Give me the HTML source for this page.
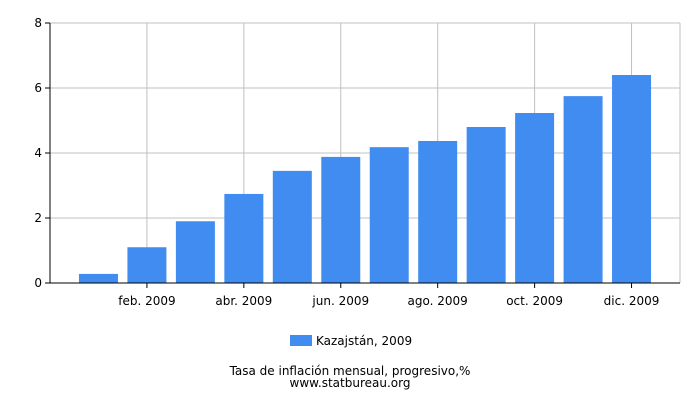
<!DOCTYPE html>
<html><head><meta charset="utf-8"><style>
body{margin:0;background:#fff;font-family:"DejaVu Sans","Liberation Sans",sans-serif}
svg text{font-family:"DejaVu Sans","Liberation Sans",sans-serif}
</style></head><body>
<svg id="chart" width="700" height="400" xmlns="http://www.w3.org/2000/svg">
<g id="grid"></g>
<g id="bars"></g>
<g id="axes"></g>
<g>
<rect x="290" y="335" width="22" height="11" fill="#418cf0"/>
<text x="316" y="345" font-size="12" fill="#000">Kazajstán, 2009</text>
</g>
<text x="350" y="375" font-size="12" text-anchor="middle" fill="#000">Tasa de inflación mensual, progresivo,%</text>
<text x="350" y="387" font-size="12" text-anchor="middle" fill="#000">www.statbureau.org</text>
</svg>
<script>
const months=["ene. 2009","feb. 2009","mar. 2009","abr. 2009","may. 2009","jun. 2009","jul. 2009","ago. 2009","sep. 2009","oct. 2009","nov. 2009","dic. 2009"];
const values=[0.28,1.1,1.9,2.74,3.45,3.88,4.18,4.37,4.8,5.23,5.75,6.4];
const yTicks=[0,2,4,6,8];
const ns="http://www.w3.org/2000/svg";
const L=50,R=680,T=23,B=283,yMax=8;
const slot=(R-L)/(months.length+1);
const x=i=>L+(i+1)*slot;
const y=v=>B-(v/yMax)*(B-T);
function mk(tag,attrs,parent,text){const e=document.createElementNS(ns,tag);for(const k in attrs)e.setAttribute(k,attrs[k]);if(text!==undefined)e.textContent=text;parent.appendChild(e);return e;}
const grid=document.getElementById('grid'),bars=document.getElementById('bars'),axes=document.getElementById('axes');
yTicks.forEach(t=>{
 const l=mk('line',{x1:L,x2:R,y1:y(t),y2:y(t),stroke:'#c0c0c0','stroke-width':1},grid);
 
 
 const tk=mk('line',{x1:L-5,x2:L,y1:y(t),y2:y(t),stroke:'#000'},axes);
 
 
 const tx=mk('text',{x:L-8,y:y(t)+4,'font-size':12,'text-anchor':'end',fill:'#000'},axes,String(t));
 
 
});
months.forEach((m,i)=>{
 if(i%2===1){
  const g=mk('line',{x1:x(i),x2:x(i),y1:T,y2:B,stroke:'#c0c0c0'},grid);
  
  
  const tk=mk('line',{x1:x(i),x2:x(i),y1:B,y2:B+5,stroke:'#000'},axes);
  
  
  const tx=mk('text',{x:x(i),y:B+22,'font-size':12,'text-anchor':'middle',fill:'#000'},axes,m);
  
  
 }
 const bw=39;
 const r=mk('rect',{x:x(i)-bw/2,y:y(values[i]),width:bw,height:B-y(values[i]),fill:'#418cf0'},bars);
 
 
});
const gl=mk('line',{x1:R,x2:R,y1:T,y2:B,stroke:'#c0c0c0'},grid);


const ya=mk('line',{x1:L,x2:L,y1:T,y2:B,stroke:'#000'},axes);


const xa=mk('line',{x1:L,x2:R,y1:B,y2:B,stroke:'#000'},axes);


</script>
</body></html>
